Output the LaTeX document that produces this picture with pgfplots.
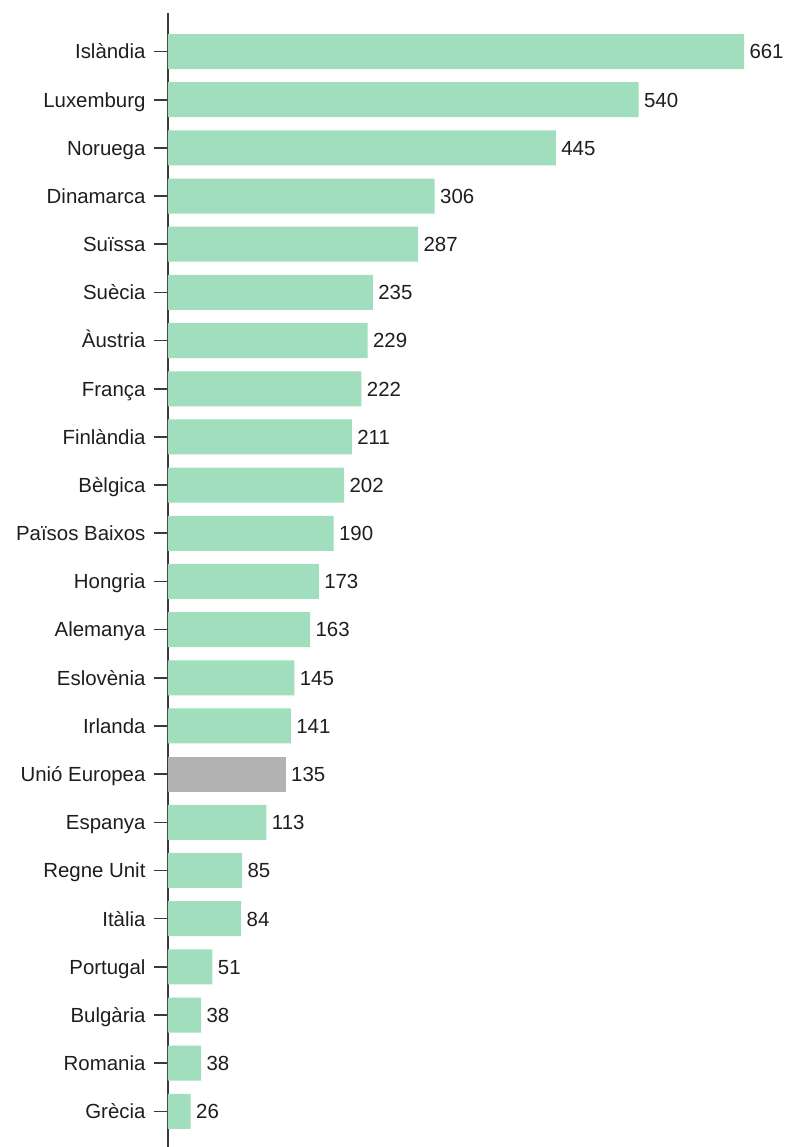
\documentclass[border=0pt]{standalone}
\usepackage{pgfplots}
\pgfplotsset{compat=1.18}
\usepackage{fontspec}
\setmainfont{Liberation Sans}
\definecolor{barg}{HTML}{A0DEBE}
\definecolor{bargrey}{HTML}{B2B2B2}
\definecolor{axc}{HTML}{3A3A3A}
\definecolor{txt}{HTML}{1E1E1E}
\begin{document}
\begin{tikzpicture}
\begin{axis}[name=ax, scale only axis, width=610bp, height=1134bp,
  xmin=0, xmax=700, ymin=-0.8, ymax=22.74, y dir=reverse,
  axis lines*=left,
  x axis line style={draw=none}, xtick=\empty,
  y axis line style={axc, line width=1.5bp},
  ytick={0,...,22},
  yticklabels={Islàndia,Luxemburg,Noruega,Dinamarca,Suïssa,Suècia,Àustria,França,Finlàndia,Bèlgica,Països Baixos,Hongria,Alemanya,Eslovènia,Irlanda,Unió Europea,Espanya,Regne Unit,Itàlia,Portugal,Bulgària,Romania,Grècia},
  tick align=outside, major tick length=14bp,
  ytick style={axc, line width=1.6bp},
  yticklabel style={font=\fontsize{20.5}{23}\selectfont, text=txt, xshift=-5bp, text height=14.7bp, text depth=0pt},
  xbar, bar width=35bp, bar shift=0pt,
  /pgf/number format/assume math mode=true,
  nodes near coords,
  nodes near coords style={font=\fontsize{20.5}{23}\selectfont, text=txt, anchor=west, xshift=2bp, text height=14.7bp, text depth=0pt},
  clip=false,
]
\addplot[fill=barg, draw=none] coordinates {
(661,0) (540,1) (445,2) (306,3) (287,4) (235,5) (229,6) (222,7) (211,8) (202,9) (190,10) (173,11) (163,12) (145,13) (141,14) (113,16) (85,17) (84,18) (51,19) (38,20) (38,21) (26,22)};
\addplot[fill=bargrey, draw=none] coordinates {(135,15)};
\end{axis}
\pgfresetboundingbox
\path ([xshift=-168bp]ax.south west) rectangle ++(789bp,1147bp);
\end{tikzpicture}
\end{document}
